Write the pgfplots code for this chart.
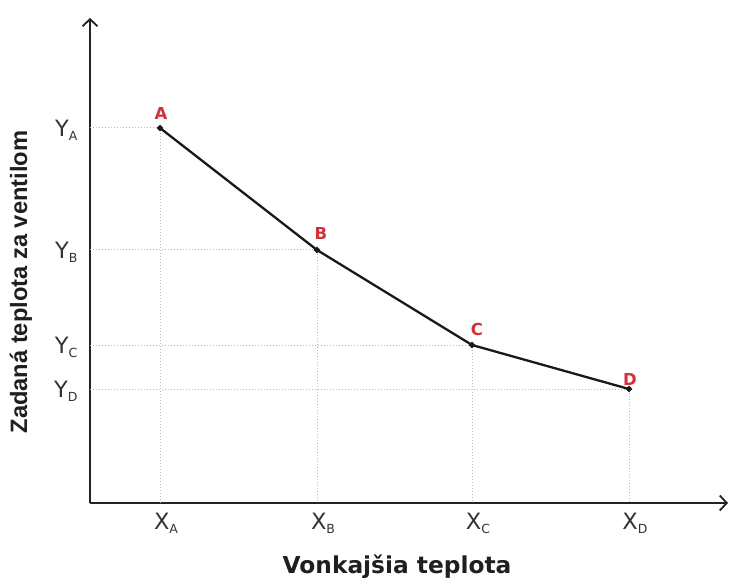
\documentclass[border=0pt]{standalone}
\usepackage{pgfplots}
\pgfplotsset{compat=1.18}
\usepackage{fontspec}
\setmainfont{DejaVu Sans}
\newfontfamily\arialfont{Liberation Sans}
\usetikzlibrary{arrows.meta}
\definecolor{ptred}{RGB}{210,50,55}
\definecolor{axgray}{RGB}{35,35,35}
\newcommand{\tl}[2]{#1\raisebox{-4pt}{\fontsize{12.5}{13}\selectfont #2}}
\begin{document}
\begin{tikzpicture}
\begin{axis}[
  scale only axis,
  width=638pt, height=485pt,
  xmin=90, xmax=728, ymin=73, ymax=558,
  axis lines=left,
  axis line style={axgray, line width=2.8pt, -{Straight Barb[length=7pt,width=15pt,line width=1.8pt]}},
  clip=false,
  xtick={160,317,472,629},
  xticklabels={\tl{X}{A},\tl{X}{B},\tl{X}{C},\tl{X}{D}},
  ytick={448,326,231,187},
  yticklabels={\tl{Y}{A},\tl{Y}{B},\tl{Y}{C},\tl{Y}{D}},
  major tick length=0pt,
  tick label style={font=\fontsize{22.5}{24}\selectfont, text=black!80},
  xticklabel style={yshift=-7pt, xshift=6pt},
  yticklabel style={xshift=-9pt, yshift=-2pt},
]
\path (axis cs:0,0) rectangle (axis cs:733,576);
% dotted guides
\addplot[gray!55, line width=1pt, dotted] coordinates {(90,448) (160,448) (160,73)};
\addplot[gray!55, line width=1pt, dotted] coordinates {(90,326) (317,326) (317,73)};
\addplot[gray!55, line width=1pt, dotted] coordinates {(90,231) (472,231) (472,73)};
\addplot[gray!55, line width=1pt, dotted] coordinates {(90,187) (629,187) (629,73)};
% curve
\addplot[black!90, line width=2.3pt, mark=*, mark size=1.7pt] coordinates {(160,448) (317,326) (472,231) (629,187)};
% point labels
\tikzset{ptlab/.style={ptred, font=\bfseries\fontsize{16.5}{18}\selectfont, anchor=base, inner sep=0pt}}
\node[ptlab] at (axis cs:161,456) {A};
\node[ptlab] at (axis cs:321,336) {B};
\node[ptlab] at (axis cs:477,241) {C};
\node[ptlab] at (axis cs:630,191) {D};
% axis labels
\node[font=\bfseries\fontsize{23.3}{26}\selectfont, text=black!88, anchor=base, inner sep=0pt] at (axis cs:397,3) {Vonkajšia teplota};
\node[rotate=90, font=\arialfont\bfseries\fontsize{23.7}{26}\selectfont, text=black!88, inner sep=0pt] at (axis cs:21,294) {Zadaná teplota za ventilom};
\end{axis}
\end{tikzpicture}
\end{document}
